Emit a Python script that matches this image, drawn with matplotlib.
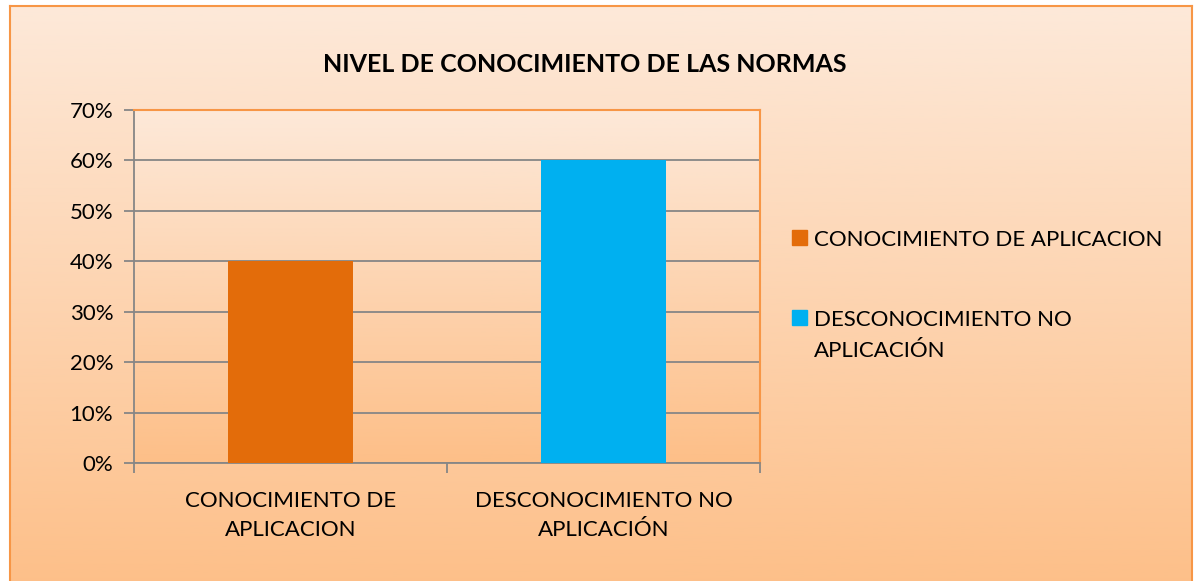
import matplotlib.pyplot as plt
import numpy as np
from matplotlib.colors import LinearSegmentedColormap
from matplotlib.patches import Rectangle

# datos
categorias = ['CONOCIMIENTO DE\nAPLICACION', 'DESCONOCIMIENTO NO\nAPLICACIÓN']
leyenda = ['CONOCIMIENTO DE APLICACION', 'DESCONOCIMIENTO NO\nAPLICACIÓN']
valores = [0.40, 0.60]
colores = ['#e36c0a', '#00b0f0']
titulo = 'NIVEL DE CONOCIMIENTO DE LAS NORMAS'

plt.rcParams['font.family'] = ['Lato', 'DejaVu Sans']
W, H = 1197, 581
fig = plt.figure(figsize=(W / 100, H / 100), dpi=100)
fig.patch.set_facecolor('white')

grad = LinearSegmentedColormap.from_list('g', ['#fde9d9', '#fdbf88'])
g = np.linspace(0, 1, 256).reshape(-1, 1)

# fondo del grafico (degradado con borde naranja)
bg = fig.add_axes([10 / W, -0.02, (1192 - 10) / W, (H - 6) / H + 0.02])
bg.imshow(g, aspect='auto', cmap=grad, extent=[0, 1, 0, 1], origin='upper')
bg.set_xlim(0, 1)
bg.set_ylim(0, 1)
bg.set_xticks([])
bg.set_yticks([])
for s in bg.spines.values():
    s.set_color('#f79646')
    s.set_linewidth(1.5)

ax = fig.add_axes([134 / W, 1 - 463 / H, (760 - 134) / W, (463 - 110) / H])
ax.imshow(g, aspect='auto', cmap=grad, extent=[-0.5, 1.5, 0, 0.7], origin='upper', zorder=0)
x = np.arange(len(categorias))
ax.bar(x, valores, width=0.4, color=colores, zorder=3)
ax.set_xlim(-0.5, 1.5)
ax.set_ylim(0, 0.7)
ax.set_yticks(np.arange(0, 0.71, 0.1))
ax.set_yticklabels([f'{int(round(v * 100))}%' for v in np.arange(0, 0.71, 0.1)], fontsize=16)
ax.yaxis.grid(True, color='#868686', linewidth=1.3, zorder=1)
ax.set_axisbelow(True)
ax.set_xticks([-0.5, 0.5, 1.5], minor=False)
ax.set_xticklabels([])
ax.set_xticks(x, minor=True)
ax.set_xticklabels(categorias, minor=True, fontsize=16, linespacing=1.55)
ax.tick_params(axis='x', which='minor', length=0, pad=20)
ax.tick_params(axis='x', which='major', length=7, color='#868686', width=1.3)
ax.tick_params(axis='y', length=7, color='#868686', width=1.3, pad=8)
ax.spines['left'].set_color('#868686')
ax.spines['bottom'].set_color('#868686')
ax.spines['left'].set_linewidth(1.3)
ax.spines['bottom'].set_linewidth(1.3)
ax.spines['top'].set_color('#f79646')
ax.spines['right'].set_color('#f79646')
ax.spines['top'].set_linewidth(1.5)
ax.spines['right'].set_linewidth(1.5)

fig.text(585 / W, 1 - 65 / H, titulo, ha='center', va='center', fontsize=18, fontweight='bold')

# leyenda
ys = [238, 318]
for c, lab, yy in zip(colores, leyenda, ys):
    fig.patches.append(Rectangle((792 / W, 1 - (yy + 7) / H), 15 / W, 15 / H,
                                 transform=fig.transFigure, color=c))
    fig.text(814 / W, 1 - (yy - 8) / H, lab, ha='left', va='top', fontsize=16, linespacing=1.7)

fig.savefig('out.png', dpi=100)
